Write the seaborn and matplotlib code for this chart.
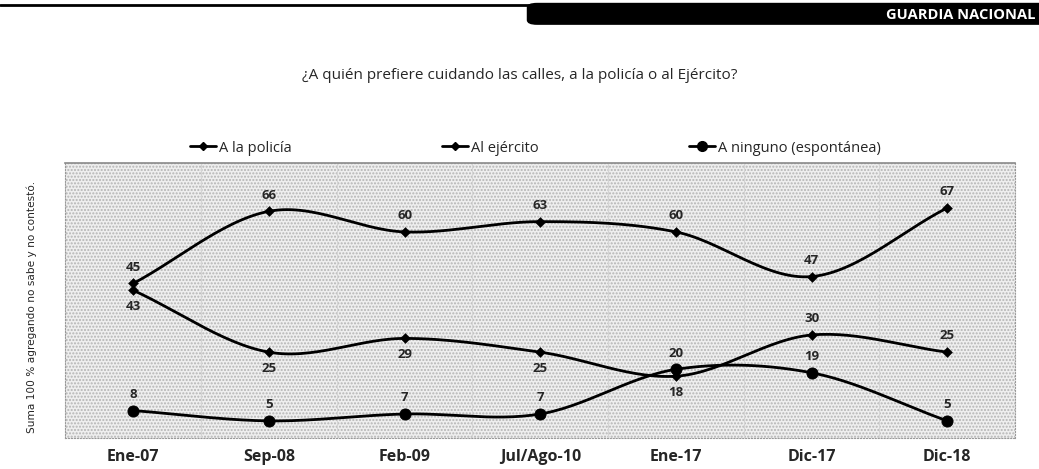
import numpy as np
import pandas as pd
import seaborn as sns
import matplotlib.pyplot as plt
from matplotlib.lines import Line2D
from matplotlib.patches import Rectangle, FancyBboxPatch

# ================= datos =================
periodos = ['Ene-07', 'Sep-08', 'Feb-09', 'Jul/Ago-10', 'Ene-17', 'Dic-17', 'Dic-18']
policia = [43, 25, 29, 25, 18, 30, 25]
ejercito = [45, 66, 60, 63, 60, 47, 67]
ninguno = [8, 5, 7, 7, 20, 19, 5]
series = ['A la policía', 'Al ejército', 'A ninguno (espontánea)']

titulo = '¿A quién prefiere cuidando las calles, a la policía o al Ejército?'
nota = 'Suma 100 % agregando no sabe y no contestó.'
encabezado = 'GUARDIA NACIONAL'


def suavizar(y, n=30):
    # curva suavizada tipo Excel (Catmull-Rom) por los puntos
    x = np.arange(len(y), dtype=float)
    y = np.asarray(y, dtype=float)
    px = np.concatenate([[2 * x[0] - x[1]], x, [2 * x[-1] - x[-2]]])
    py = np.concatenate([[2 * y[0] - y[1]], y, [2 * y[-1] - y[-2]]])
    xs, ys = [], []
    for i in range(1, len(px) - 2):
        t = np.linspace(0, 1, n, endpoint=False)
        for p, out in ((px, xs), (py, ys)):
            p0, p1, p2, p3 = p[i - 1], p[i], p[i + 1], p[i + 2]
            out.extend(0.5 * ((2 * p1) + (-p0 + p2) * t
                              + (2 * p0 - 5 * p1 + 4 * p2 - p3) * t ** 2
                              + (-p0 + 3 * p1 - 3 * p2 + p3) * t ** 3))
    xs.append(x[-1]); ys.append(y[-1])
    return np.array(xs), np.array(ys)


sns.set_style('white')
plt.rcParams['font.family'] = ['Open Sans', 'DejaVu Sans']

fig = plt.figure(figsize=(10.39, 4.69), dpi=100)
ax = fig.add_axes([0.063, 0.066, 0.914, 0.586])

# fondo punteado
ax.set_facecolor('#efefef')
ax.add_patch(Rectangle((0, 0), 1, 1, transform=ax.transAxes, facecolor='none',
                       edgecolor='#b4b4b4', hatch='.....', lw=0, zorder=0))
for b in np.arange(0.5, len(periodos) - 1, 1):
    ax.axvline(b, color='#d4d4d4', lw=0.8, zorder=0.5)

x = np.arange(len(periodos))
estilos = [(policia, 'D', 5), (ejercito, 'D', 5), (ninguno, 'o', 8)]
for vals, mk, ms in estilos:
    xs, ys = suavizar(vals)
    sns.lineplot(x=xs, y=ys, sort=False, color='black', lw=2, ax=ax, zorder=3)
    sns.scatterplot(x=x, y=vals, marker=mk, s=ms ** 2, color='black',
                    edgecolor='black', ax=ax, zorder=4)

# etiquetas de datos
pos_policia = [-1, -1, -1, -1, -1, 1, 1]
for i in range(len(periodos)):
    ax.annotate(str(ejercito[i]), (x[i], ejercito[i]), xytext=(0, 7), textcoords='offset points',
                ha='center', va='bottom', fontsize=9.5, fontweight='bold')
    off = 7 if pos_policia[i] > 0 else -7
    ax.annotate(str(policia[i]), (x[i], policia[i]), xytext=(0, off), textcoords='offset points',
                ha='center', va='bottom' if off > 0 else 'top', fontsize=9.5, fontweight='bold')
    ax.annotate(str(ninguno[i]), (x[i], ninguno[i]), xytext=(0, 7), textcoords='offset points',
                ha='center', va='bottom', fontsize=9.5, fontweight='bold')

ax.set_xlim(-0.5, len(periodos) - 0.5)
ax.set_ylim(0, 80)
ax.set_xticks(x)
ax.set_xticklabels(periodos, fontsize=11.5, fontweight='bold')
ax.set_yticks([])
ax.tick_params(axis='x', length=0, pad=8)
for s in ['left', 'right', 'bottom']:
    ax.spines[s].set_color('#9a9a9a')
    ax.spines[s].set_linestyle(':')
    ax.spines[s].set_linewidth(0.8)
ax.spines['top'].set_color('#8a8a8a')
ax.spines['top'].set_linewidth(1.2)

handles = [Line2D([], [], color='black', lw=2, marker='D', ms=4),
           Line2D([], [], color='black', lw=2, marker='D', ms=4),
           Line2D([], [], color='black', lw=2, marker='o', ms=7)]
ax.legend(handles, series, loc='center', bbox_to_anchor=(0.495, 1.055), ncol=3,
          frameon=False, columnspacing=10.3, handlelength=1.8, handletextpad=0.2,
          prop={'size': 10.5}, borderaxespad=0)

fig.text(0.5, 0.84, titulo, ha='center', va='center', fontsize=11)
fig.text(0.031, 0.345, nota, rotation=90, ha='center', va='center', fontsize=7.6,
         family=['Liberation Sans Narrow', 'DejaVu Sans'])

# encabezado
fig.add_artist(Line2D([0, 0.51], [0.989, 0.989], color='black', lw=2, transform=fig.transFigure))
fig.add_artist(FancyBboxPatch((0.507, 0.947), 0.6, 0.047, boxstyle='round,pad=0,rounding_size=0.01',
                              facecolor='black', edgecolor='none', transform=fig.transFigure))
fig.text(0.997, 0.968, encabezado, ha='right', va='center', color='white',
         fontsize=10.5, fontweight='bold')

fig.savefig('out.png', dpi=100)
